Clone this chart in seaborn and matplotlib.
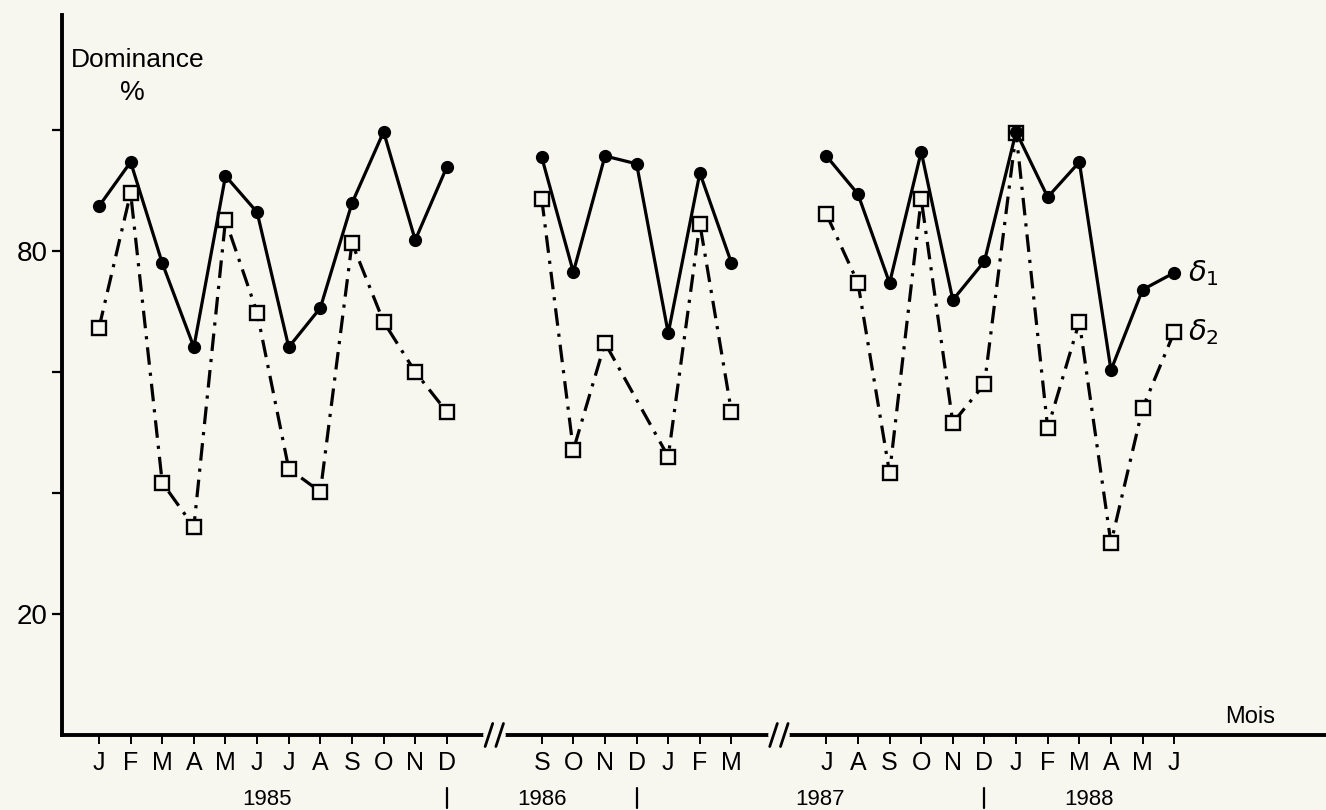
import matplotlib
matplotlib.use("Agg")
import matplotlib.pyplot as plt
import seaborn as sns
import pandas as pd
import numpy as np

# months on one running axis (0 = janvier 1985), two cut-out gaps
pos_85 = list(range(0, 12))
pos_86 = list(range(14, 21))
pos_87 = list(range(23, 35))

months_85 = ["J", "F", "M", "A", "M", "J", "J", "A", "S", "O", "N", "D"]
months_86 = ["S", "O", "N", "D", "J", "F", "M"]
months_87 = ["J", "A", "S", "O", "N", "D", "J", "F", "M", "A", "M", "J"]

years = ["1985", "1986", "1987", "1988"]
year_pos = [5.3, 14.0, 22.8, 31.3]
year_sep = [11, 17, 28]

# dominance (%)
d1_85 = [87.4, 94.7, 78.0, 64.1, 92.4, 86.4, 64.1, 70.6, 87.9, 99.7, 81.8, 93.9]
d1_86 = [95.5, 76.5, 95.7, 94.4, 66.4, 92.9, 78.0]
d1_87 = [95.7, 89.4, 74.7, 96.4, 71.9, 78.3, 99.7, 88.9, 94.7, 60.3, 73.6, 76.4]

d2_85 = [67.3, 89.6, 41.7, 34.4, 85.1, 69.8, 44.0, 40.2, 81.3, 68.3, 60.0, 53.4]
d2_86 = [88.6, 47.1, 64.8, np.nan, 46.0, 84.5, 53.4]
d2_87 = [86.1, 74.7, 43.3, 88.6, 51.6, 58.0, 99.5, 50.7, 68.3, 31.7, 54.0, 66.6]

rows = []
for seg, (pos, a, b) in enumerate([(pos_85, d1_85, d2_85),
                                   (pos_86, d1_86, d2_86),
                                   (pos_87, d1_87, d2_87)]):
    for x, v1, v2 in zip(pos, a, b):
        rows.append({"x": x, "seg": seg, "serie": "d1", "val": v1})
        rows.append({"x": x, "seg": seg, "serie": "d2", "val": v2})
df = pd.DataFrame(rows).dropna()

sns.set_style("ticks")
plt.rcParams["font.family"] = ["Liberation Sans", "DejaVu Sans"]
plt.rcParams["text.color"] = "black"
plt.rcParams["xtick.color"] = "black"
plt.rcParams["ytick.color"] = "black"

bg = "#f7f6ef"
fig = plt.figure(figsize=(13.26, 8.10), dpi=100)
fig.patch.set_facecolor(bg)
ax = fig.add_axes([62 / 1326, 75 / 810, 1264 / 1326, 720 / 810])
ax.set_facecolor(bg)

sns.lineplot(data=df[df.serie == "d2"], x="x", y="val", units="seg", estimator=None,
             color="black", lw=2.3, ls=(0, (5.5, 2.5, 1, 2.5)), marker="s", ms=10,
             mfc=bg, mec="black", mew=1.7, ax=ax)
sns.lineplot(data=df[df.serie == "d1"], x="x", y="val", units="seg", estimator=None,
             color="black", lw=2.3, marker="o", ms=8.5, mec="black", mew=1, ax=ax)

ax.set_xlim(-1.17, 38.8)
ax.set_ylim(0, 119)
ax.set_xlabel("")
ax.set_ylabel("")

for s in ["top", "right"]:
    ax.spines[s].set_visible(False)
for s in ["left", "bottom"]:
    ax.spines[s].set_linewidth(2.8)
    ax.spines[s].set_color("black")

ax.set_xticks(pos_85 + pos_86 + pos_87)
ax.set_xticklabels(months_85 + months_86 + months_87)
ax.tick_params(axis="x", length=6.5, width=1.4, labelsize=18, pad=5)
ax.set_yticks([20, 40, 60, 80, 100])
ax.set_yticklabels(["20", "", "", "80", ""])
ax.tick_params(axis="y", length=7.5, width=1.6, labelsize=20, pad=3)

trans = ax.get_xaxis_transform()
for xb in [12.5, 21.5]:
    ax.plot([xb - 0.2, xb + 0.2], [0, 0], color=bg, lw=7, transform=trans,
            clip_on=False, zorder=5)
    for dx in [-0.17, 0.17]:
        ax.plot([xb + dx - 0.12, xb + dx + 0.12], [-0.016, 0.016], color="black",
                lw=2, transform=trans, clip_on=False, zorder=6)

for yr, xp in zip(years, year_pos):
    ax.text(xp, -0.09, yr, transform=trans, ha="center", va="center", fontsize=16)
for xp in year_sep:
    ax.plot([xp, xp], [-0.074, -0.102], color="black", lw=1.6, transform=trans,
            clip_on=False)

ax.text(0.06, 0.938, "Dominance", transform=ax.transAxes, ha="center", va="center",
        fontsize=19)
ax.text(0.056, 0.891, "%", transform=ax.transAxes, ha="center", va="center",
        fontsize=20)
ax.text(0.94, 0.025, "Mois", transform=ax.transAxes, ha="center", va="center",
        fontsize=17)

ax.annotate(r"$\delta_1$", xy=(pos_87[-1], d1_87[-1]), xytext=(10, 0),
            textcoords="offset points", ha="left", va="center", fontsize=21)
ax.annotate(r"$\delta_2$", xy=(pos_87[-1], d2_87[-1]), xytext=(10, 0),
            textcoords="offset points", ha="left", va="center", fontsize=21)

fig.savefig("out.png", dpi=100, facecolor=bg)
